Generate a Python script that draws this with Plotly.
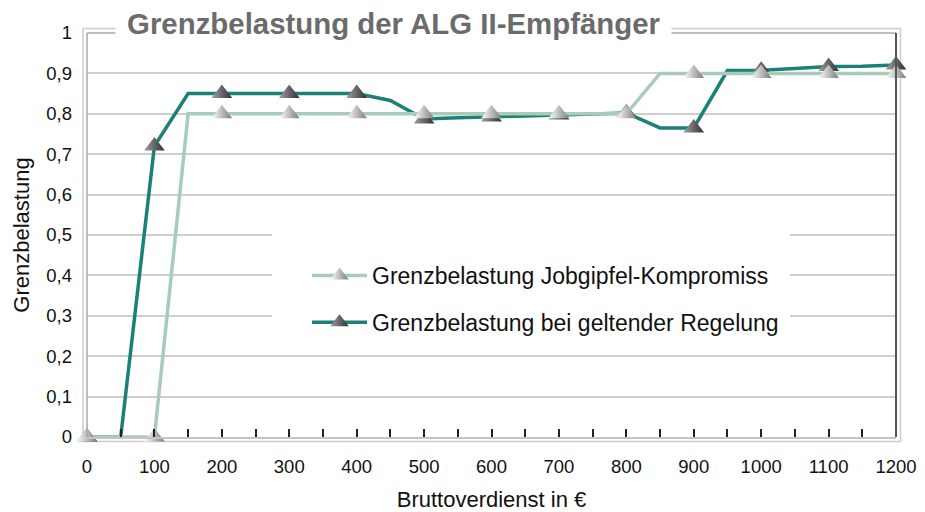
import plotly.graph_objects as go

# ---------------- data ----------------
brutto = [0, 50, 100, 150, 200, 250, 300, 350, 400, 450, 500, 550, 600,
          650, 700, 750, 800, 850, 900, 950, 1000, 1050, 1100, 1150, 1200]
kompromiss = [0, 0, 0, 0.8, 0.8, 0.8, 0.8, 0.8, 0.8, 0.8, 0.8, 0.8, 0.8,
              0.8, 0.8, 0.8, 0.8, 0.9, 0.9, 0.9, 0.9, 0.9, 0.9, 0.9, 0.9]
geltend = [0, 0, 0.72, 0.85, 0.85, 0.85, 0.85, 0.85, 0.85, 0.833, 0.787, 0.79, 0.792,
           0.795, 0.797, 0.8, 0.802, 0.765, 0.765, 0.907, 0.908, 0.912, 0.917, 0.918, 0.921]
name_kompromiss = "Grenzbelastung Jobgipfel-Kompromiss"
name_geltend = "Grenzbelastung bei geltender Regelung"
y_tickvals = [0, 0.1, 0.2, 0.3, 0.4, 0.5, 0.6, 0.7, 0.8, 0.9, 1]
y_ticktext = ["0", "0,1", "0,2", "0,3", "0,4", "0,5", "0,6", "0,7", "0,8", "0,9", "1"]
title_text = "Grenzbelastung der ALG II-Empfänger"
x_title = "Bruttoverdienst in €"
y_title = "Grenzbelastung"

# ---------------- layout constants ----------------
OFF = 8                      # default body margin of the html page
W, H = 925 - OFF, 512 - OFF
PL, PR, PT, PB = 87, 896, 33, 437   # plot area in page pixels
L, T = PL - OFF, PT - OFF
R, B = W - (PR - OFF), H - (PB - OFF)
PW, PH = PR - PL, PB - PT
FONT = "Liberation Sans, Arial, sans-serif"
MS = 18
# markers only every 100 €, the other vertices get an invisible symbol
msymbols = ["triangle-up" if v % 100 == 0 else "line-ew" for v in brutto]

def px_x(p):
    return (p - PL) / PW

def px_y(p):
    return (PB - p) / PH

fig = go.Figure()

fig.add_trace(go.Scatter(
    x=brutto, y=geltend, name=name_geltend, mode="lines+markers",
    line=dict(color="#1b8177", width=3.5),
    marker=dict(symbol=msymbols, size=MS, color="#a0a0a0",
                gradient=dict(type="horizontal", color="#2e2e2e"),
                line=dict(width=0)),
    cliponaxis=False, legendrank=2, legendgroup="b",
))
fig.add_trace(go.Scatter(
    x=brutto, y=kompromiss, name=name_kompromiss, mode="lines+markers",
    line=dict(color="#a8ccb8", width=3.5),
    marker=dict(symbol=msymbols, size=MS, color="#ffffff",
                gradient=dict(type="horizontal", color="#7a7a7a"),
                line=dict(width=0)),
    cliponaxis=False, legendrank=1, legendgroup="a",
))

shapes = []
# legend white box
shapes.append(dict(type="rect", xref="paper", yref="paper",
                   x0=px_x(272), x1=px_x(790), y0=px_y(348), y1=px_y(230),
                   fillcolor="white", line=dict(width=0), layer="above"))
# outer light frame
shapes.append(dict(type="rect", xref="paper", yref="paper",
                   x0=px_x(83), x1=px_x(900.5), y0=px_y(441.5), y1=px_y(28.5),
                   line=dict(color="#cccccc", width=1.5), layer="below"))
# inner left / top lines
shapes.append(dict(type="line", xref="paper", yref="paper",
                   x0=0, x1=0, y0=0, y1=1, line=dict(color="#a8a8a8", width=1.5), layer="above"))
shapes.append(dict(type="line", xref="paper", yref="paper",
                   x0=0, x1=1, y0=1, y1=1, line=dict(color="#a8a8a8", width=1.5), layer="above"))
# inner right dark line
shapes.append(dict(type="line", xref="paper", yref="paper",
                   x0=1, x1=1, y0=0, y1=1, line=dict(color="#555555", width=2), layer="above"))

fig.update_layout(
    width=W, height=H,
    margin=dict(l=L, r=R, t=T, b=B, autoexpand=False),
    paper_bgcolor="white", plot_bgcolor="white",
    font=dict(family=FONT, size=18.5, color="#111111"),
    showlegend=True,
    legend=dict(x=px_x(307), y=px_y(254), xanchor="left", yanchor="top",
                bgcolor="rgba(0,0,0,0)", font=dict(size=23, color="#111111"),
                traceorder="grouped", tracegroupgap=14, itemwidth=55,
                itemsizing="trace"),
    shapes=shapes,
    annotations=[dict(
        text="<b>" + title_text + "</b>", xref="paper", yref="paper",
        x=px_x(393), y=px_y(24), xanchor="center", yanchor="middle",
        showarrow=False, bgcolor="white", width=551, borderpad=2,
        font=dict(family=FONT, size=29.4, color="#6b6b6b"),
    )],
    xaxis=dict(
        range=[0, 1200], dtick=100, tick0=0,
        ticks="inside", ticklen=8, tickwidth=1.5, tickcolor="#222222",
        minor=dict(dtick=50, tick0=0, ticks="inside", ticklen=8, tickwidth=1.5,
                   tickcolor="#222222", showgrid=False),
        showgrid=False, zeroline=False,
        showline=True, linecolor="#c4c4c4", linewidth=1.5,
        ticklabelstandoff=12,
        title=dict(text=x_title, font=dict(size=22), standoff=16),
        fixedrange=True,
    ),
    yaxis=dict(
        range=[0, 1], tickvals=y_tickvals, ticktext=y_ticktext,
        showgrid=True, gridcolor="#cfcfcf", gridwidth=1.5,
        zeroline=False, showline=False, ticks="",
        ticklabelstandoff=14,
        title=dict(text=y_title, font=dict(size=22), standoff=10),
        fixedrange=True,
    ),
)

fig.write_html("out.html")
